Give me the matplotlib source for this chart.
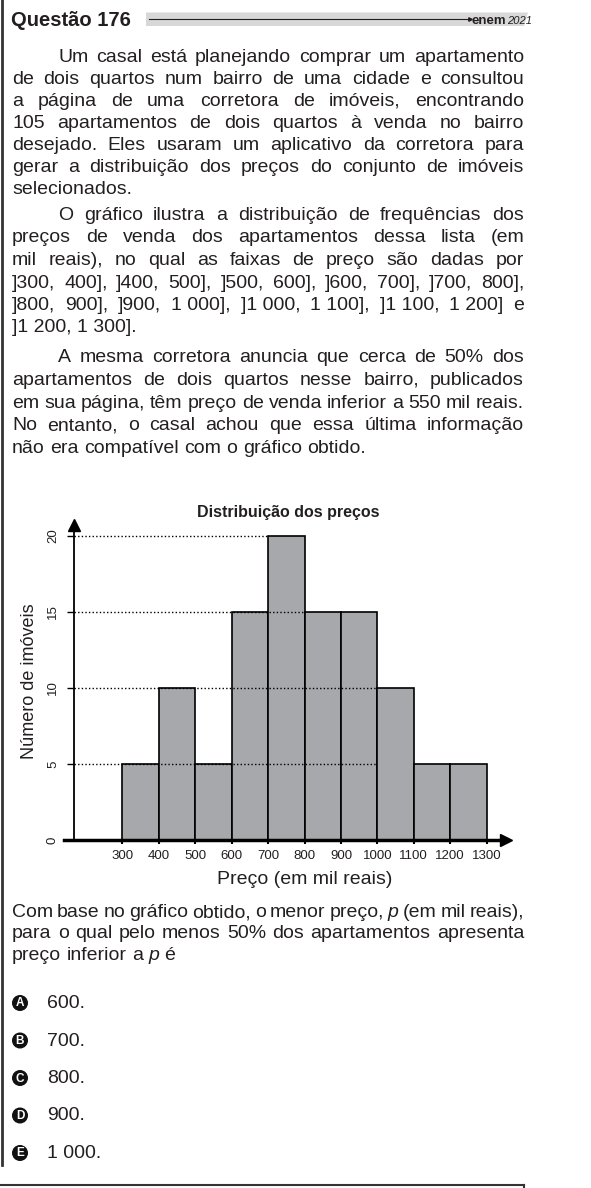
import numpy as np
import matplotlib.pyplot as plt
from matplotlib.patches import Polygon, Circle

plt.rcParams['font.family'] = ['Liberation Sans', 'DejaVu Sans']

# Dados do gráfico
faixas_inicio = [300, 400, 500, 600, 700, 800, 900, 1000, 1100, 1200]
n_imoveis = [5, 10, 5, 15, 20, 15, 15, 10, 5, 5]
x_ticks = [300, 400, 500, 600, 700, 800, 900, 1000, 1100, 1200, 1300]
y_ticks = [0, 5, 10, 15, 20]
grade_niveis = [5, 10, 15, 20]
grade_fim = [1000, 1000, 800, 700]

# Texto da questao
par1 = ["Um casal está planejando comprar um apartamento",
        "de dois quartos num bairro de uma cidade e consultou",
        "a página de uma corretora de imóveis, encontrando",
        "105 apartamentos de dois quartos à venda no bairro",
        "desejado. Eles usaram um aplicativo da corretora para",
        "gerar a distribuição dos preços do conjunto de imóveis",
        "selecionados."]
par2 = ["O gráfico ilustra a distribuição de frequências dos",
        "preços de venda dos apartamentos dessa lista (em",
        "mil reais), no qual as faixas de preço são dadas por",
        "]300, 400], ]400, 500], ]500, 600], ]600, 700], ]700, 800],",
        "]800, 900], ]900, 1\u00a0000], ]1\u00a0000, 1\u00a0100], ]1\u00a0100, 1\u00a0200] e",
        "]1\u00a0200, 1\u00a0300]."]
par3 = ["A mesma corretora anuncia que cerca de 50% dos",
        "apartamentos de dois quartos nesse bairro, publicados",
        "em sua página, têm preço de venda inferior a 550 mil reais.",
        "No entanto, o casal achou que essa última informação",
        "não era compatível com o gráfico obtido."]
pergunta = ["Com base no gráfico obtido, o menor preço, _p_ (em mil reais),",
            "para o qual pelo menos 50% dos apartamentos apresenta",
            "preço inferior a _p_ é"]
letras = ["A", "B", "C", "D", "E"]
alternativas = ["600.", "700.", "800.", "900.", "1\u00a0000."]

W, H = 591, 1188
fig = plt.figure(figsize=(W / 100, H / 100), dpi=100)
page = fig.add_axes([0, 0, 1, 1])
page.set_xlim(0, W)
page.set_ylim(H, 0)
page.axis('off')
renderer = fig.canvas.get_renderer()

cor = '#231f20'
fs = 14
x_esq, x_dir, recuo = 12, 524, 46


def linha(texto, y, x0, justificar):
    objs = []
    for w in texto.split(' '):
        estilo = 'normal'
        if w.startswith('_') and w.endswith('_'):
            w = w[1:-1]
            estilo = 'italic'
        objs.append(page.text(0, y, w, fontsize=fs, fontstyle=estilo,
                              color=cor, va='baseline', ha='left'))
    larg = [t.get_window_extent(renderer).width for t in objs]
    espaco = fs * 100 / 72 * 0.278
    if justificar and len(objs) > 1:
        espaco = (x_dir - x0 - sum(larg)) / (len(objs) - 1)
    x = x0
    for t, l in zip(objs, larg):
        t.set_x(x)
        x += l + espaco


def paragrafo(linhas, y0, passo, recuar=True, ultima_livre=True):
    for i, txt in enumerate(linhas):
        x0 = x_esq + recuo if (i == 0 and recuar) else x_esq
        just = not (ultima_livre and i == len(linhas) - 1)
        linha(txt, y0 + i * passo + 5, x0, just)


# cabecalho
page.text(11, 26, "Questão 176", fontsize=14.5, fontweight='bold', color=cor, va='baseline')
page.add_patch(Polygon([(146, 12.5), (528, 12.5), (524, 26), (146, 26)],
                       closed=True, color='#d8d8d8', lw=0))
page.plot([149, 470], [19, 19], color=cor, lw=0.8)
page.plot(470, 19, marker='>', ms=2.5, color=cor)
t_enem = page.text(472, 24, "enem", fontsize=9.5, fontweight='bold', color=cor, va='baseline')
w_enem = t_enem.get_window_extent(renderer).width
page.text(472 + w_enem, 24, "2021", fontsize=8, fontstyle='italic', color=cor, va='baseline')

paragrafo(par1, 57, 22)
paragrafo(par2, 215, 22.5)
paragrafo(par3, 357, 22.75)
paragrafo(pergunta, 912, 21.5, recuar=False)

for i, (l, alt) in enumerate(zip(letras, alternativas)):
    yc = 1003 + i * 37.5
    page.add_patch(Circle((20, yc), 7.3, color='#111111'))
    page.text(20, yc + 0.5, l, fontsize=8.5, fontweight='bold', color='white',
              ha='center', va='center')
    page.text(47, yc + 5, alt, fontsize=fs, color=cor, va='baseline')

# bordas da pagina
page.plot([1.5, 1.5], [0, 1165], color='#333333', lw=2)
page.plot([0, 524], [1185, 1185], color='#333333', lw=1.5)
page.plot([524, 524], [1185, 1188], color='#333333', lw=1.5)

# grafico
px_300, px_100 = 122.3, 36.44
py_0, py_1 = 840, 15.2
xlim = (130, 1380)
ylim = (-0.6, 21.6)
left = px_300 + (xlim[0] - 300) * px_100 / 100
right = px_300 + (xlim[1] - 300) * px_100 / 100
bottom = py_0 - ylim[0] * py_1
top = py_0 - ylim[1] * py_1
ax = fig.add_axes([left / W, (H - bottom) / H, (right - left) / W, (bottom - top) / H])
ax.set_facecolor('none')
ax.set_xlim(*xlim)
ax.set_ylim(*ylim)

ax.bar(faixas_inicio, n_imoveis, width=100, align='edge', color='#a7a8ab',
       edgecolor='black', linewidth=1.2, zorder=2)
x_eixo = 168
for nv, fim in zip(grade_niveis, grade_fim):
    ax.plot([x_eixo, fim], [nv, nv], color='black', lw=1, ls=(0, (1, 1.6)), zorder=3)

for s in ['top', 'right']:
    ax.spines[s].set_visible(False)
ax.spines['left'].set_position(('data', x_eixo))
ax.spines['left'].set_bounds(0, 20.7)
ax.spines['left'].set_linewidth(1.3)
ax.spines['bottom'].set_position(('data', 0))
ax.spines['bottom'].set_bounds(140, 1353)
ax.spines['bottom'].set_linewidth(2.5)
ax.spines['left'].set_zorder(4)
ax.spines['bottom'].set_zorder(4)
ax.plot(x_eixo, 20.7, marker='^', ms=9, color='black', clip_on=False, zorder=5)
ax.plot(1353, 0, marker='>', ms=9, color='black', clip_on=False, zorder=5)

ax.set_xticks(x_ticks)
ax.set_xticklabels([str(v) for v in x_ticks], fontsize=9.5, color=cor)
ax.set_yticks(y_ticks)
ax.set_yticklabels([str(v) for v in y_ticks], fontsize=9.5, color=cor,
                   rotation=90, va='center')
ax.tick_params(axis='x', direction='out', length=3, width=1.5, pad=4)
ax.tick_params(axis='y', direction='out', length=5, width=1, pad=6)

page.text(288, 512, "Distribuição dos preços", fontsize=11.5, fontweight='bold',
          color=cor, ha='center', va='center')
page.text(305, 880, "Preço (em mil reais)", fontsize=14, color=cor, ha='center', va='center')
page.text(30, 681, "Número de imóveis", fontsize=13, color=cor, ha='center', va='center',
          rotation=90)

fig.savefig('out.png', dpi=100)
